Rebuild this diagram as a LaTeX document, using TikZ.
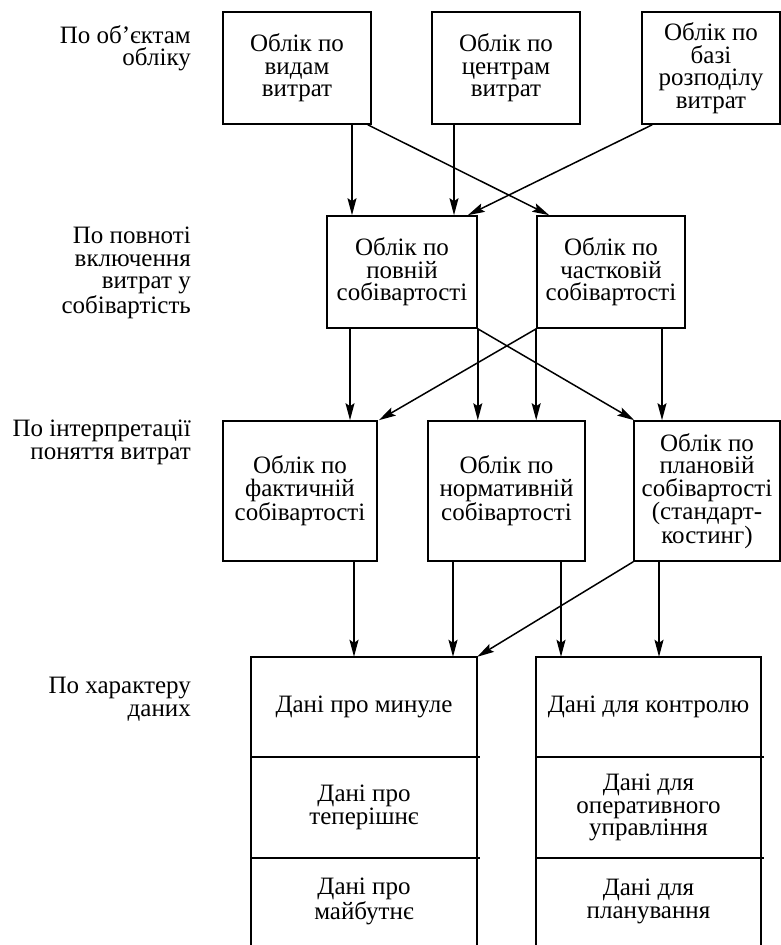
\documentclass[tikz,border=0pt]{standalone}
\usepackage{fontspec}
\setmainfont{Liberation Serif}
\usetikzlibrary{arrows.meta}
\tikzset{
  txt/.style={font=\fontsize{25}{22.5}\selectfont, align=center, inner sep=0pt},
  lbl/.style={font=\fontsize{25}{22.5}\selectfont, align=right, inner sep=0pt, anchor=north east},
  box/.style={draw, line width=1.6pt, txt, minimum height=112pt},
  arr/.style={line width=1.5pt, -{Stealth[length=17pt,width=9pt,inset=3pt]}},
  ln/.style={line width=1.6pt}
}
\begin{document}
\begin{tikzpicture}[x=1pt,y=-1pt]
\useasboundingbox (0,0) rectangle (781,945);
% left labels
\node[lbl] (l1) at (191,25) {По об’єктам\\обліку};
\node[lbl] (l2) at (191,227) {По повноті\\включення\\витрат у\\собівартість};
\node[lbl] (l3) at (191,420) {По інтерпретації\\поняття витрат};
\node[lbl] (l4) at (191,677) {По характеру\\даних};
% row 1
\node[box, minimum width=148pt] (A) at (297,68) {Облік по\\видам\\витрат};
\node[box, minimum width=148pt] (B) at (506,68) {Облік по\\центрам\\витрат};
\node[box, minimum width=138pt] (C) at (711,68) {Облік по\\базі\\розподілу\\витрат};
% row 2
\node[box, minimum width=150pt] (D) at (402,272) {Облік по\\повній\\собівартості};
\node[box, minimum width=148pt] (E) at (611,272) {Облік по\\частковій\\собівартості};
% row 3
\node[box, minimum width=154pt, minimum height=140pt] (F) at (300,491) {Облік по\\фактичній\\собівартості};
\node[box, minimum width=157pt, minimum height=140pt] (G) at (506.5,491) {Облік по\\нормативній\\собівартості};
\node[box, minimum width=146pt, minimum height=140pt] (H) at (707,491) {Облік по\\плановій\\собівартості\\(стандарт-\\костинг)};
% row 4 (open at the bottom)
\node[inner sep=0pt, minimum width=226pt, minimum height=290pt] (I) at (364,802) {};
\node[inner sep=0pt, minimum width=225pt, minimum height=290pt] (J) at (648.5,802) {};
\draw[ln] (I.south west) -- (I.north west) -- (I.north east) -- (I.south east);
\draw[ln] (J.south west) -- (J.north west) -- (J.north east) -- (J.south east);
\coordinate (ia) at ([yshift=-100pt]I.north west);
\coordinate (ib) at ([yshift=-201pt]I.north west);
\coordinate (ja) at ([yshift=-100pt]J.north west);
\coordinate (jb) at ([yshift=-201pt]J.north west);
\draw[ln] (ia) -- ([xshift=3pt]ia -| I.east);
\draw[ln] (ib) -- ([xshift=3pt]ib -| I.east);
\draw[ln] (ja) -- ([xshift=3pt]ja -| J.east);
\draw[ln] (jb) -- ([xshift=3pt]jb -| J.east);
\node[txt] (i1) at (364,707) {Дані про минуле};
\node[txt] (i2) at (364,807.5) {Дані про\\теперішнє};
\node[txt] (i3) at (364,901.5) {Дані про\\майбутнє};
\node[txt] (j1) at (648.5,707) {Дані для контролю};
\node[txt] (j2) at (648.5,807.5) {Дані для\\оперативного\\управління};
\node[txt] (j3) at (648.5,901.5) {Дані для\\планування};
% arrows row 1 -> row 2
\draw[arr] ([xshift=55pt]A.south) -- ([xshift=55pt]A.south |- D.north);
\draw[arr] ([xshift=-52pt]B.south) -- ([xshift=-52pt]B.south |- D.north);
\draw[arr] ([xshift=-4pt]A.south east) -- ([xshift=13pt]E.north west);
\draw[arr] ([xshift=11pt]C.south west) -- ([xshift=-10pt]D.north east);
% arrows row 2 -> row 3
\draw[arr] ([xshift=-52pt]D.south) -- ([xshift=-52pt]D.south |- F.north);
\draw[arr] (D.south east) -- (D.south east |- G.north);
\draw[arr] (E.south west) -- (E.south west |- G.north);
\draw[arr] ([xshift=51pt]E.south) -- ([xshift=51pt]E.south |- H.north);
\draw[arr] (D.south east) -- ([xshift=1pt]H.north west);
\draw[arr] (E.south west) -- ([xshift=1pt]F.north east);
% arrows row 3 -> row 4
\draw[arr] ([xshift=54pt]F.south) -- ([xshift=54pt]F.south |- I.north);
\draw[arr] ([xshift=-53.5pt]G.south) -- ([xshift=-53.5pt]G.south |- I.north);
\draw[arr] ([xshift=54.5pt]G.south) -- ([xshift=54.5pt]G.south |- J.north);
\draw[arr] ([xshift=-48pt]H.south) -- ([xshift=-48pt]H.south |- J.north);
\draw[arr] (H.south west) -- (I.north east);
\end{tikzpicture}
\end{document}
